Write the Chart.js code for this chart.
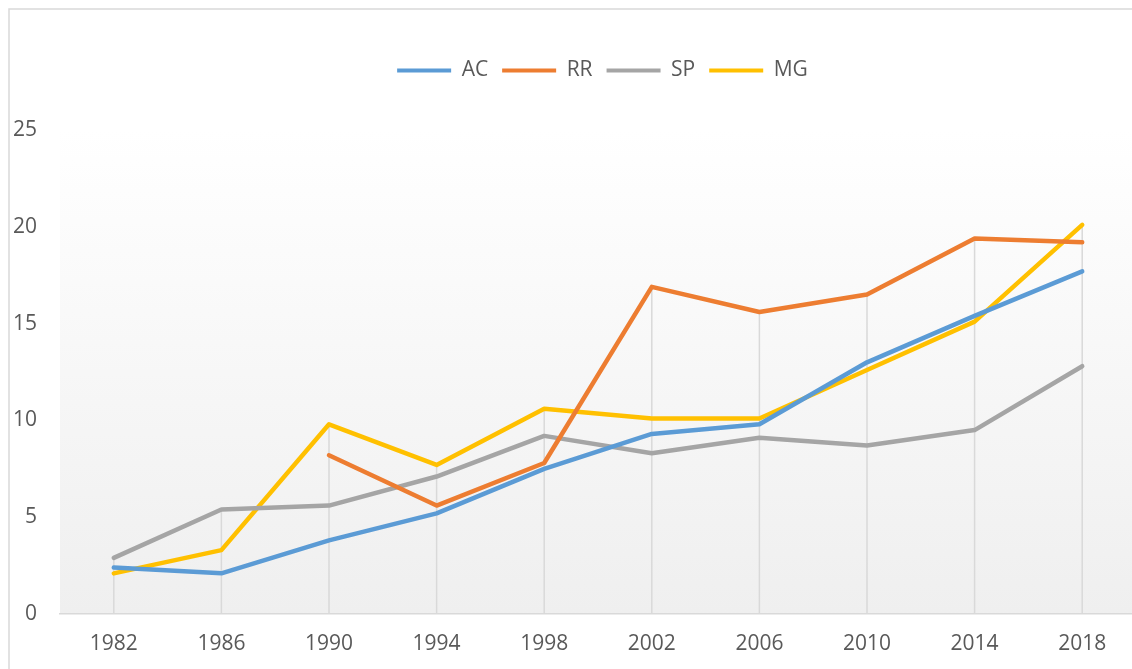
<!DOCTYPE html>
<html>
<head>
<meta charset="utf-8">
<script src="https://cdn.jsdelivr.net/npm/chart.js@4"></script>
<style>
  html, body { margin: 0; padding: 0; background: #ffffff; overflow: hidden; }
  #wrap { position: absolute; left: 0; top: 0; width: 1205px; height: 669px; }
</style>
</head>
<body>
<div id="wrap"><canvas id="c"></canvas></div>
<script>
const years = ['1982','1986','1990','1994','1998','2002','2006','2010','2014','2018'];
const acValues = [2.4, 2.1, 3.8, 5.2, 7.5, 9.3, 9.8, 13.0, 15.4, 17.7];
const rrValues = [null, null, 8.2, 5.6, 7.8, 16.9, 15.6, 16.5, 19.4, 19.2];
const spValues = [2.9, 5.4, 5.6, 7.1, 9.2, 8.3, 9.1, 8.7, 9.5, 12.8];
const mgValues = [2.1, 3.3, 9.8, 7.7, 10.6, 10.1, 10.1, 12.6, 15.1, 20.1];
const seriesNames = ['AC', 'RR', 'SP', 'MG'];
const seriesColors = ['#5b9bd5', '#ed7d31', '#a5a5a5', '#ffc000'];
const yTicks = [0, 5, 10, 15, 20, 25];

const FONT = "'Open Sans', 'DejaVu Sans', sans-serif";
const TEXT = '#595959';
const GRID = '#d9d9d9';

const allSeries = [acValues, rrValues, spValues, mgValues];

const bgPlugin = {
  id: 'bgPlugin',
  beforeDraw(chart) {
    const { ctx, chartArea: a } = chart;
    ctx.save();
    const g = ctx.createLinearGradient(0, a.top, 0, a.bottom);
    g.addColorStop(0, '#ffffff');
    g.addColorStop(1, '#efefef');
    ctx.fillStyle = g;
    ctx.fillRect(a.left, a.top, a.right - a.left, a.bottom - a.top);
    ctx.strokeStyle = GRID;
    ctx.lineWidth = 1.5;
    ctx.strokeRect(9, 9, chart.width + 100, chart.height + 100);
    ctx.restore();
  },
  beforeDatasetsDraw(chart) {
    const { ctx } = chart;
    const xs = chart.scales.x, ys = chart.scales.y;
    ctx.save();
    ctx.strokeStyle = GRID;
    ctx.lineWidth = 1.5;
    years.forEach((yr, i) => {
      let mx = null;
      allSeries.forEach(s => { if (s[i] !== null && (mx === null || s[i] > mx)) mx = s[i]; });
      if (mx === null) return;
      const x = xs.getPixelForValue(i);
      ctx.beginPath();
      ctx.moveTo(x, ys.getPixelForValue(mx));
      ctx.lineTo(x, ys.getPixelForValue(0));
      ctx.stroke();
    });
    ctx.restore();
  }
};

const legendSpacer = {
  id: 'legendSpacer',
  afterInit(chart) {
    const lg = chart.legend;
    const orig = lg.fit;
    lg.fit = function () { orig.call(this); this.height += 39; };
  }
};

new Chart(document.getElementById('c'), {
  type: 'line',
  data: {
    labels: years,
    datasets: allSeries.map((vals, k) => ({
      label: seriesNames[k],
      data: vals,
      borderColor: seriesColors[k],
      backgroundColor: seriesColors[k],
      borderWidth: 4.5,
      pointRadius: 0,
      pointHoverRadius: 0,
      tension: 0,
      spanGaps: false,
      borderJoinStyle: 'round',
      borderCapStyle: 'round',
      yAxisID: 'y'
    }))
  },
  options: {
    responsive: true,
    maintainAspectRatio: false,
    animation: false,
    layout: { padding: { left: 0, right: 0, top: 46, bottom: 0 } },
    plugins: {
      title: { display: false },
      tooltip: { enabled: false },
      legend: {
        display: true,
        position: 'top',
        align: 'center',
        labels: {
          color: TEXT,
          font: { family: FONT, size: 21 },
          boxWidth: 54,
          boxHeight: 4,
          padding: 14,
          generateLabels(chart) {
            const items = Chart.defaults.plugins.legend.labels.generateLabels(chart);
            items.forEach(it => { it.lineWidth = 0; it.fillStyle = it.strokeStyle; });
            return items;
          }
        }
      }
    },
    scales: {
      x: {
        type: 'category',
        offset: true,
        grid: { display: false, drawTicks: false },
        border: { display: true, color: GRID, width: 1.5 },
        ticks: { color: TEXT, font: { family: FONT, size: 21 }, padding: 17, maxRotation: 0, autoSkip: false },
        afterFit(s) { s.height = 55; }
      },
      y: {
        position: 'left',
        min: 0,
        max: 25,
        afterBuildTicks(s) { s.ticks = yTicks.map(v => ({ value: v })); },
        grid: { display: false, drawTicks: false },
        border: { display: false },
        ticks: { color: TEXT, font: { family: FONT, size: 21 }, padding: 23 },
        afterFit(s) { s.width = 60; }
      },
      yRight: {
        type: 'linear',
        position: 'right',
        display: true,
        min: 0,
        max: 25,
        grid: { display: false, drawTicks: false },
        border: { display: false },
        ticks: { display: false },
        afterFit(s) { s.width = 69; }
      }
    }
  },
  plugins: [bgPlugin, legendSpacer]
});
</script>
</body>
</html>
